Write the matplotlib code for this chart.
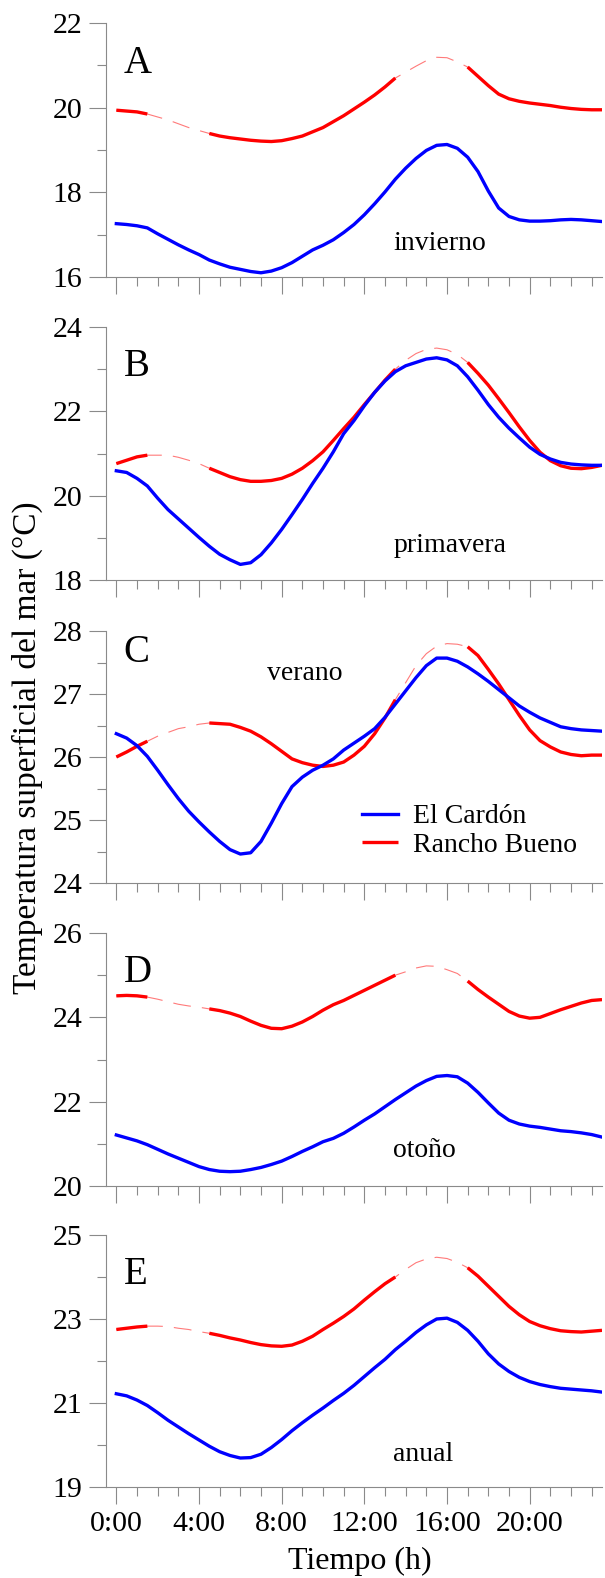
import numpy as np
import matplotlib
matplotlib.use("Agg")
import matplotlib.pyplot as plt
from matplotlib.ticker import MultipleLocator, FixedLocator

plt.rcParams['font.family'] = ['Liberation Serif', 'DejaVu Serif']

# ---------------- data ----------------
hours = np.arange(0, 24, 0.5)  # 0:00 .. 23:30, half-hourly

# gaps in the Rancho Bueno record (drawn thin / dashed)
gap_start = [1.5, 13.5]
gap_end = [4.5, 17.0]

# A - invierno
cardon_invierno = [17.26, 17.24, 17.21, 17.16, 17.02, 16.89, 16.76, 16.64, 16.53, 16.40,
                   16.31, 16.23, 16.18, 16.13, 16.10, 16.14, 16.22, 16.34, 16.49, 16.64,
                   16.75, 16.88, 17.05, 17.24, 17.47, 17.73, 18.01, 18.31, 18.57, 18.80,
                   18.99, 19.11, 19.13, 19.04, 18.83, 18.49, 18.03, 17.63, 17.43, 17.35,
                   17.32, 17.32, 17.33, 17.35, 17.36, 17.35, 17.33, 17.31]
rancho_invierno = [19.94, 19.92, 19.90, 19.85, 19.78, 19.71, 19.62, 19.53, 19.46, 19.39,
                   19.33, 19.29, 19.26, 19.23, 19.21, 19.20, 19.22, 19.27, 19.33, 19.43,
                   19.53, 19.67, 19.81, 19.97, 20.13, 20.30, 20.49, 20.70, 20.84, 20.98,
                   21.11, 21.19, 21.18, 21.08, 20.96, 20.74, 20.52, 20.32, 20.21, 20.15,
                   20.11, 20.08, 20.05, 20.01, 19.98, 19.96, 19.95, 19.95]

# B - primavera
cardon_primavera = [20.59, 20.55, 20.41, 20.23, 19.94, 19.67, 19.45, 19.23, 19.01, 18.80,
                    18.61, 18.48, 18.37, 18.41, 18.60, 18.88, 19.20, 19.55, 19.91, 20.29,
                    20.65, 21.04, 21.47, 21.78, 22.13, 22.45, 22.72, 22.94, 23.08, 23.16,
                    23.24, 23.27, 23.22, 23.08, 22.82, 22.50, 22.16, 21.86, 21.60, 21.37,
                    21.15, 20.98, 20.87, 20.79, 20.75, 20.73, 20.72, 20.72]
rancho_primavera = [20.76, 20.84, 20.92, 20.96, 20.96, 20.96, 20.91, 20.84, 20.76, 20.65,
                    20.55, 20.45, 20.38, 20.34, 20.34, 20.36, 20.41, 20.51, 20.65, 20.83,
                    21.04, 21.31, 21.59, 21.86, 22.16, 22.45, 22.74, 23.00, 23.21, 23.37,
                    23.47, 23.50, 23.46, 23.35, 23.16, 22.90, 22.62, 22.30, 21.97, 21.63,
                    21.31, 21.03, 20.83, 20.71, 20.65, 20.64, 20.67, 20.72]

# C - verano
cardon_verano = [26.37, 26.30, 26.18, 26.01, 25.79, 25.56, 25.34, 25.14, 24.97, 24.81,
                 24.66, 24.53, 24.46, 24.48, 24.66, 24.95, 25.26, 25.53, 25.68, 25.79,
                 25.87, 25.97, 26.11, 26.22, 26.33, 26.45, 26.63, 26.84, 27.05, 27.26,
                 27.45, 27.57, 27.57, 27.52, 27.43, 27.32, 27.20, 27.07, 26.94, 26.81,
                 26.71, 26.62, 26.55, 26.48, 26.45, 26.43, 26.42, 26.41]
rancho_verano = [26.00, 26.08, 26.17, 26.25, 26.33, 26.39, 26.45, 26.48, 26.52, 26.54,
                 26.53, 26.52, 26.47, 26.41, 26.32, 26.21, 26.09, 25.97, 25.91, 25.87,
                 25.85, 25.87, 25.92, 26.03, 26.17, 26.37, 26.62, 26.91, 27.18, 27.45,
                 27.64, 27.76, 27.80, 27.79, 27.75, 27.61, 27.39, 27.16, 26.91, 26.66,
                 26.43, 26.26, 26.16, 26.08, 26.04, 26.02, 26.03, 26.03]

# D - otoño
cardon_otono = [21.21, 21.14, 21.07, 20.98, 20.87, 20.76, 20.66, 20.56, 20.46, 20.39,
                20.35, 20.34, 20.35, 20.39, 20.44, 20.51, 20.59, 20.70, 20.82, 20.93,
                21.05, 21.13, 21.25, 21.40, 21.56, 21.71, 21.88, 22.05, 22.21, 22.37,
                22.50, 22.60, 22.62, 22.59, 22.44, 22.22, 21.97, 21.73, 21.56, 21.47,
                21.42, 21.39, 21.35, 21.31, 21.29, 21.26, 21.22, 21.16]
rancho_otono = [24.51, 24.52, 24.51, 24.48, 24.43, 24.37, 24.31, 24.27, 24.24, 24.20,
                24.16, 24.10, 24.02, 23.91, 23.81, 23.74, 23.73, 23.79, 23.89, 24.02,
                24.17, 24.30, 24.40, 24.52, 24.64, 24.76, 24.88, 25.00, 25.08, 25.17,
                25.22, 25.21, 25.13, 25.04, 24.86, 24.66, 24.48, 24.31, 24.14, 24.03,
                23.98, 24.00, 24.09, 24.18, 24.26, 24.34, 24.40, 24.42]

# E - anual
cardon_anual = [21.22, 21.17, 21.07, 20.94, 20.77, 20.59, 20.43, 20.27, 20.12, 19.97,
                19.84, 19.75, 19.69, 19.70, 19.78, 19.94, 20.13, 20.34, 20.53, 20.71,
                20.88, 21.06, 21.23, 21.42, 21.63, 21.84, 22.04, 22.27, 22.47, 22.68,
                22.86, 23.00, 23.02, 22.92, 22.73, 22.47, 22.17, 21.93, 21.75, 21.61,
                21.51, 21.44, 21.39, 21.35, 21.33, 21.31, 21.29, 21.26]
rancho_anual = [22.75, 22.78, 22.81, 22.83, 22.83, 22.82, 22.78, 22.75, 22.70, 22.66,
                22.61, 22.55, 22.50, 22.44, 22.39, 22.36, 22.35, 22.38, 22.47, 22.59,
                22.75, 22.90, 23.06, 23.24, 23.45, 23.65, 23.84, 24.00, 24.18, 24.34,
                24.43, 24.47, 24.44, 24.35, 24.22, 24.02, 23.78, 23.54, 23.30, 23.10,
                22.94, 22.84, 22.77, 22.72, 22.70, 22.69, 22.71, 22.73]

panel_letters = ["A", "B", "C", "D", "E"]
season_names = ["invierno", "primavera", "verano", "otoño", "anual"]
ylims = [(16, 22), (18, 24), (24, 28), (20, 26), (19, 25)]
yticks_major = [[16, 18, 20, 22], [18, 20, 22, 24], [24, 25, 26, 27, 28],
                [20, 22, 24, 26], [19, 21, 23, 25]]
yticks_minor = [[17, 19, 21], [19, 21, 23], [24.5, 25.5, 26.5, 27.5],
                [21, 23, 25], [20, 22, 24]]
xtick_pos = [0, 4, 8, 12, 16, 20]
xtick_labels = ["0:00", "4:00", "8:00", "12:00", "16:00", "20:00"]
series_names = ["El Cardón", "Rancho Bueno"]

cardon = [cardon_invierno, cardon_primavera, cardon_verano, cardon_otono, cardon_anual]
rancho = [rancho_invierno, rancho_primavera, rancho_verano, rancho_otono, rancho_anual]

# ---------------- figure ----------------
W, H = 605, 1578
fig = plt.figure(figsize=(W / 100, H / 100), dpi=100)

BLUE = "#0000FF"
RED = "#FF0000"
SPINE = "#8a8a8a"

ax_left = 106 / W
ax_width = 496 / W
tops = [23, 327, 631, 933, 1235]
bottoms = [277, 580, 883, 1186, 1487]

letter_y = [0.802, 0.806, 0.877, 0.806, 0.806]
season_pos = [(0.579, 0.106), (0.579, 0.110), (0.325, 0.806), (0.579, 0.115), (0.579, 0.103)]

in_gap = np.zeros(len(hours), dtype=bool)
for s, e in zip(gap_start, gap_end):
    in_gap |= (hours > s) & (hours < e)

for i in range(5):
    b = 1 - bottoms[i] / H
    h = (bottoms[i] - tops[i]) / H
    ax = fig.add_axes([ax_left, b, ax_width, h])

    c = np.asarray(cardon[i], dtype=float)
    r = np.asarray(rancho[i], dtype=float)
    r_thick = r.copy()
    r_thick[in_gap] = np.nan

    # thin dashed (gap-filled) red line underneath
    ax.plot(hours, r, color="#ff7a7a", lw=0.8, dashes=(16, 10), zorder=2)
    l2, = ax.plot(hours, r_thick, color=RED, lw=2.4, solid_capstyle='butt', zorder=3)
    l1, = ax.plot(hours, c, color=BLUE, lw=2.4, zorder=4)

    ax.set_xlim(-0.5, 23.5)
    ax.set_ylim(*ylims[i])
    ax.xaxis.set_major_locator(FixedLocator(xtick_pos))
    ax.xaxis.set_minor_locator(MultipleLocator(1))
    ax.yaxis.set_major_locator(FixedLocator(yticks_major[i]))
    ax.yaxis.set_minor_locator(FixedLocator(yticks_minor[i]))

    for side in ["top", "right"]:
        ax.spines[side].set_visible(False)
    for side in ["left", "bottom"]:
        ax.spines[side].set_color(SPINE)
        ax.spines[side].set_linewidth(0.8)

    ax.tick_params(which='major', direction='out', length=12, width=0.8, color=SPINE,
                   labelsize=21.5, pad=5)
    ax.tick_params(which='minor', direction='out', length=6.5, width=0.8, color=SPINE)
    ax.set_yticklabels([str(v) for v in yticks_major[i]])
    if i == 4:
        ax.set_xticklabels(xtick_labels)
    else:
        ax.set_xticklabels([])

    ax.text(0.036, letter_y[i], panel_letters[i], transform=ax.transAxes,
            fontsize=28, ha='left', va='baseline')
    ax.text(season_pos[i][0], season_pos[i][1], season_names[i], transform=ax.transAxes,
            fontsize=20, ha='left', va='baseline')

    if i == 2:
        ax.legend([l1, l2], series_names, loc='center left',
                  bbox_to_anchor=(0.516, 0.206), frameon=False, fontsize=20,
                  handlelength=1.3, handletextpad=0.55, labelspacing=0.12,
                  borderpad=0, borderaxespad=0)

fig.text(0.046, 1 - 748 / H, "Temperatura superficial del mar (°C)", rotation=90,
         fontsize=24, ha='center', va='center')
fig.text(360 / W, 1 - 1569 / H, "Tiempo (h)", fontsize=23, ha='center', va='baseline')

fig.savefig("out.png", dpi=100)
